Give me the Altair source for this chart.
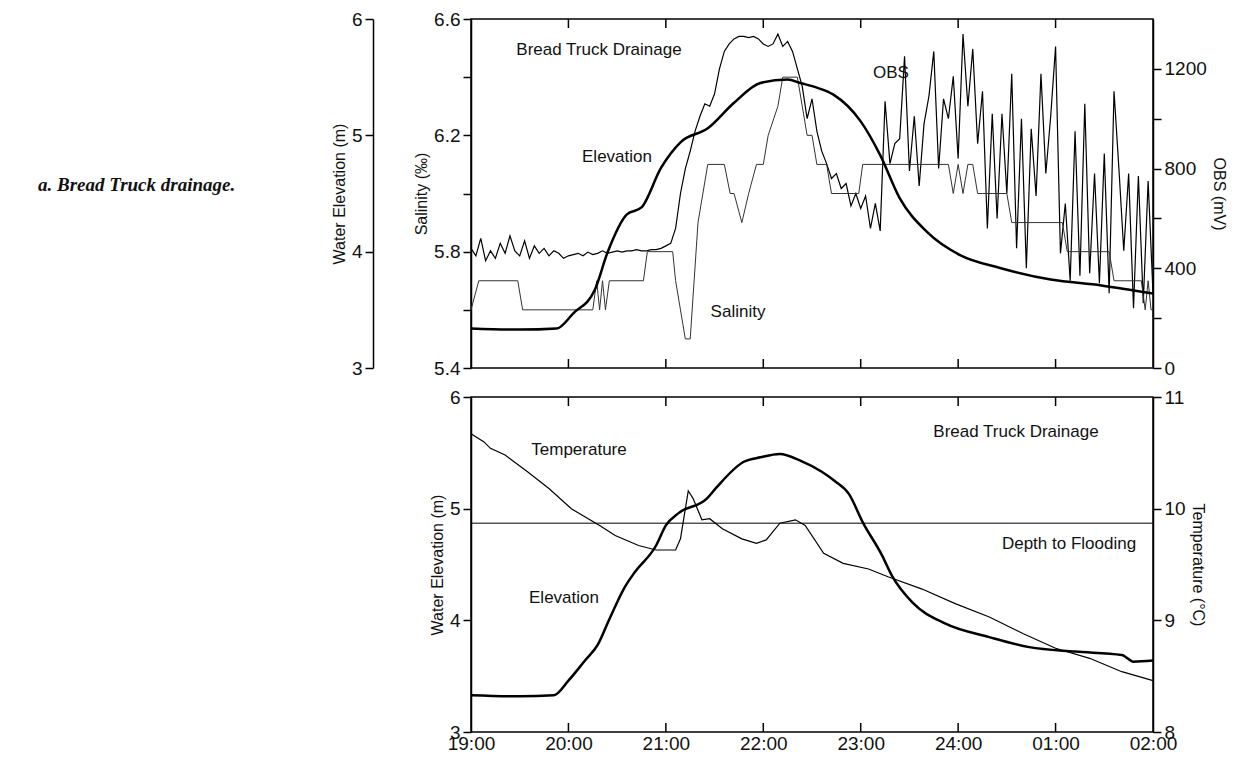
import altair as alt
import pandas as pd

# ---- top panel series (hours since midnight of day 1, 24+ = next day)
elev_top_h = [19.0, 19.5, 19.88, 20.05, 20.27, 20.4, 20.6, 20.75, 20.95, 21.15, 21.43,
              21.7, 21.97, 22.25, 22.38, 22.55, 22.72, 23.0, 23.2, 23.4, 23.68, 24.02,
              24.43, 24.95, 25.47, 26.0]
elev_top_v = [3.34, 3.33, 3.34, 3.47, 3.67, 3.99, 4.32, 4.38, 4.72, 4.94, 5.06,
              5.28, 5.45, 5.48, 5.45, 5.41, 5.35, 5.12, 4.83, 4.46, 4.17, 3.97,
              3.86, 3.76, 3.71, 3.64]

sal_h = [19.0, 19.08, 19.48, 19.53, 20.25, 20.29, 20.32, 20.35, 20.38, 20.42, 20.77,
         20.81, 21.07, 21.1, 21.15, 21.2, 21.25, 21.33, 21.43, 21.6, 21.66, 21.7,
         21.78, 21.85, 21.93, 22.0, 22.05, 22.15, 22.2, 22.35, 22.4, 22.45, 22.5,
         22.55, 22.65, 22.7, 22.98, 23.02, 23.9, 23.95, 24.0, 24.05, 24.1, 24.15,
         24.2, 24.25, 24.5, 24.55, 25.07, 25.12, 25.55, 25.6, 25.88, 25.92, 25.95,
         25.98, 26.0]
sal_v = [5.6, 5.7, 5.7, 5.6, 5.6, 5.7, 5.6, 5.7, 5.6, 5.7, 5.7,
         5.8, 5.8, 5.7, 5.6, 5.5, 5.5, 5.9, 6.1, 6.1, 6.0, 6.0,
         5.9, 6.0, 6.1, 6.1, 6.2, 6.3, 6.4, 6.4, 6.3, 6.2, 6.2,
         6.1, 6.1, 6.0, 6.0, 6.1, 6.1, 6.0, 6.1, 6.0, 6.1, 6.1,
         6.0, 6.0, 6.0, 5.9, 5.9, 5.8, 5.8, 5.7, 5.7, 5.6, 5.7,
         5.6, 5.6]

obs_v = [480, 450, 520, 430, 470, 440, 500, 460, 530, 470, 450, 510, 440, 490, 460,
         480, 450, 470, 460, 440, 450,
         455, 460, 450, 465, 455, 460, 470, 460, 465, 470, 465, 470, 470, 475, 470,
         470, 475, 475, 480, 490,
         500, 560, 700, 800, 870, 950, 1010, 1060, 1050, 1100, 1200, 1270, 1300, 1320,
         1330, 1330, 1325, 1330, 1320, 1300, 1290, 1300, 1340, 1290, 1310, 1270, 1200,
         1130, 1000, 1080, 950, 870, 820, 760, 780, 720, 740, 650, 700, 640, 690, 560,
         660, 550, 1070, 820, 900, 920, 1250, 790, 1010, 730, 980, 1090, 1270, 800,
         1080, 1000, 1170, 840, 1340, 1050, 1280, 900, 1110, 560, 1020, 600, 1020, 700,
         1180, 480, 1000, 400, 960, 690, 1180, 780, 1010, 1290, 460, 660, 350, 950, 370,
         1060, 380, 780, 340, 860, 300, 1110, 800, 470, 780, 240, 770, 260, 750, 300]
obs_h = [19 + i * 0.05 for i in range(len(obs_v))]

# ---- bottom panel series
elev_bot_h = [19.0, 19.5, 19.85, 20.0, 20.17, 20.3, 20.42, 20.58, 20.68, 20.9, 21.0,
              21.13, 21.42, 21.52, 21.8, 21.97, 22.17, 22.38, 22.6, 22.73, 22.88,
              23.02, 23.22, 23.32, 23.53, 23.87, 24.32, 24.73, 25.2, 25.68, 25.8, 26.0]
elev_bot_v = [3.33, 3.32, 3.33, 3.46, 3.64, 3.78, 4.01, 4.30, 4.43, 4.67, 4.85,
              4.96, 5.09, 5.19, 5.42, 5.46, 5.49, 5.43, 5.33, 5.25, 5.13,
              4.88, 4.58, 4.40, 4.16, 3.97, 3.85, 3.76, 3.72, 3.69, 3.63, 3.64]

temp_h = [19.0, 19.13, 19.2, 19.35, 19.58, 19.8, 20.03, 20.32, 20.48, 20.72, 20.9,
          21.1, 21.15, 21.23, 21.28, 21.37, 21.45, 21.58, 21.78, 21.93, 22.03,
          22.17, 22.33, 22.43, 22.62, 22.82, 23.08, 23.28, 23.63, 23.97, 24.32,
          24.67, 25.0, 25.35, 25.68, 26.0]
temp_v = [10.67, 10.60, 10.54, 10.48, 10.33, 10.18, 10.0, 9.85, 9.76, 9.67, 9.63,
          9.63, 9.73, 10.16, 10.09, 9.90, 9.91, 9.82, 9.73, 9.69, 9.72,
          9.87, 9.90, 9.85, 9.60, 9.51, 9.46, 9.39, 9.28, 9.15, 9.03,
          8.88, 8.75, 8.66, 8.54, 8.46]

flood_level = 4.87
hour_ticks = [20, 21, 22, 23, 24, 25]

W, H_TOP, H_BOT = 682, 349, 335
FONT = "Liberation Sans"

x_scale = alt.Scale(domain=[19, 26], nice=False, zero=False)
x_top = alt.X("h:Q", scale=x_scale, axis=None)
x_bot = alt.X("h:Q", scale=x_scale, axis=alt.Axis(
    values=list(range(19, 27)), ticks=False, domain=False, grid=False,
    labelPadding=2, labelFontSize=19, labelFlush=False, title=None,
    labelExpr="datum.value == 24 ? '24:00' : ((datum.value % 24) < 10 ? '0' : '') + (datum.value % 24) + ':00'"))


def yaxis(title, orient, values, shown, offset=0, fmt="d"):
    return alt.Axis(
        orient=orient, values=values, title=title, grid=False, format=fmt,
        tickSize=8, tickWidth=1.5, domainWidth=1.5, domainColor="black",
        tickColor="black", labelFontSize=19, titleFontSize=16,
        titleFontWeight="normal", labelPadding=3, offset=offset,
        labelExpr="indexof(%s, datum.value) >= 0 ? datum.label : ''" % shown)


def label(text, x, y, size=17, font=FONT, **kw):
    return alt.Chart(pd.DataFrame({"t": [text]})).mark_text(
        fontSize=size, font=font, color="#111", **kw).encode(
        x=alt.value(x), y=alt.value(y), text="t:N")


def inner_ticks(h, xenc):
    d = pd.DataFrame({"h": hour_ticks})
    top = alt.Chart(d).mark_rule(color="black", strokeWidth=1.5).encode(
        x=xenc, y=alt.value(0), y2=alt.value(9))
    bot = alt.Chart(d).mark_rule(color="black", strokeWidth=1.5).encode(
        x=xenc, y=alt.value(h - 9), y2=alt.value(h))
    return top + bot


# ---- top panel
et = alt.Chart(pd.DataFrame({"h": elev_top_h, "v": elev_top_v})).mark_line(
    color="black", strokeWidth=2.5, interpolate="monotone").encode(
    x=x_top,
    y=alt.Y("v:Q", scale=alt.Scale(domain=[3, 6], nice=False, zero=False),
            axis=yaxis("Water Elevation (m)", "left",
                       [3, 3.5, 4, 4.5, 5, 5.5, 6], "[3,4,5,6]", offset=98)))
sal = alt.Chart(pd.DataFrame({"h": sal_h, "v": sal_v})).mark_line(
    color="#333", strokeWidth=1).encode(
    x=x_top,
    y=alt.Y("v:Q", scale=alt.Scale(domain=[5.4, 6.6], nice=False, zero=False),
            axis=yaxis("Salinity (‰)", "left",
                       [5.4, 5.6, 5.8, 6.0, 6.2, 6.4, 6.6], "[5.4,5.8,6.2,6.6]",
                       fmt=".1f")))
obs = alt.Chart(pd.DataFrame({"h": obs_h, "v": obs_v})).mark_line(
    color="black", strokeWidth=1.2).encode(
    x=x_top,
    y=alt.Y("v:Q", scale=alt.Scale(domain=[0, 1400], nice=False),
            axis=yaxis("OBS (mV)", "right",
                       [0, 200, 400, 600, 800, 1000, 1200], "[0,400,800,1200]")))

top = alt.layer(
    obs, sal, et, inner_ticks(H_TOP, x_top),
    label("Bread Truck Drainage", 128, 31),
    label("Elevation", 146, 138),
    label("Salinity", 267, 293),
    label("OBS", 420, 54),
    label("a. Bread Truck drainage.", -433, 166, size=19, font="Liberation Serif",
          align="left", fontStyle="italic", fontWeight="bold"),
).resolve_scale(y="independent").properties(width=W, height=H_TOP)

# ---- bottom panel
eb = alt.Chart(pd.DataFrame({"h": elev_bot_h, "v": elev_bot_v})).mark_line(
    color="black", strokeWidth=2.5, interpolate="monotone").encode(
    x=x_bot,
    y=alt.Y("v:Q", scale=alt.Scale(domain=[3, 6], nice=False, zero=False),
            axis=yaxis("Water Elevation (m)", "left",
                       [3, 3.5, 4, 4.5, 5, 5.5, 6], "[3,4,5,6]")))
tp = alt.Chart(pd.DataFrame({"h": temp_h, "v": temp_v})).mark_line(
    color="black", strokeWidth=1.2).encode(
    x=x_bot,
    y=alt.Y("v:Q", scale=alt.Scale(domain=[8, 11], nice=False, zero=False),
            axis=yaxis("Temperature (°C)", "right",
                       [8, 8.5, 9, 9.5, 10, 10.5, 11], "[8,9,10,11]")))
flood = alt.Chart(pd.DataFrame({"v": [flood_level]})).mark_rule(
    color="black", strokeWidth=1).encode(
    y=alt.Y("v:Q", scale=alt.Scale(domain=[3, 6], nice=False, zero=False), axis=None))

bottom = alt.layer(
    eb, tp, flood, inner_ticks(H_BOT, x_bot),
    label("Temperature", 108, 53),
    label("Elevation", 93, 201),
    label("Bread Truck Drainage", 545, 35),
    label("Depth to Flooding", 598, 147),
).resolve_scale(y="independent").properties(width=W, height=H_BOT)

chart = alt.vconcat(top, bottom, spacing=8).properties(
    padding={"left": 29, "top": 1, "right": 5, "bottom": 5}
).configure_view(
    stroke="black", strokeWidth=1.5
).configure_axis(
    labelFont=FONT, titleFont=FONT, labelColor="#111", titleColor="#111"
)

chart.save("out.html", embed_options={"renderer": "svg", "actions": False})
